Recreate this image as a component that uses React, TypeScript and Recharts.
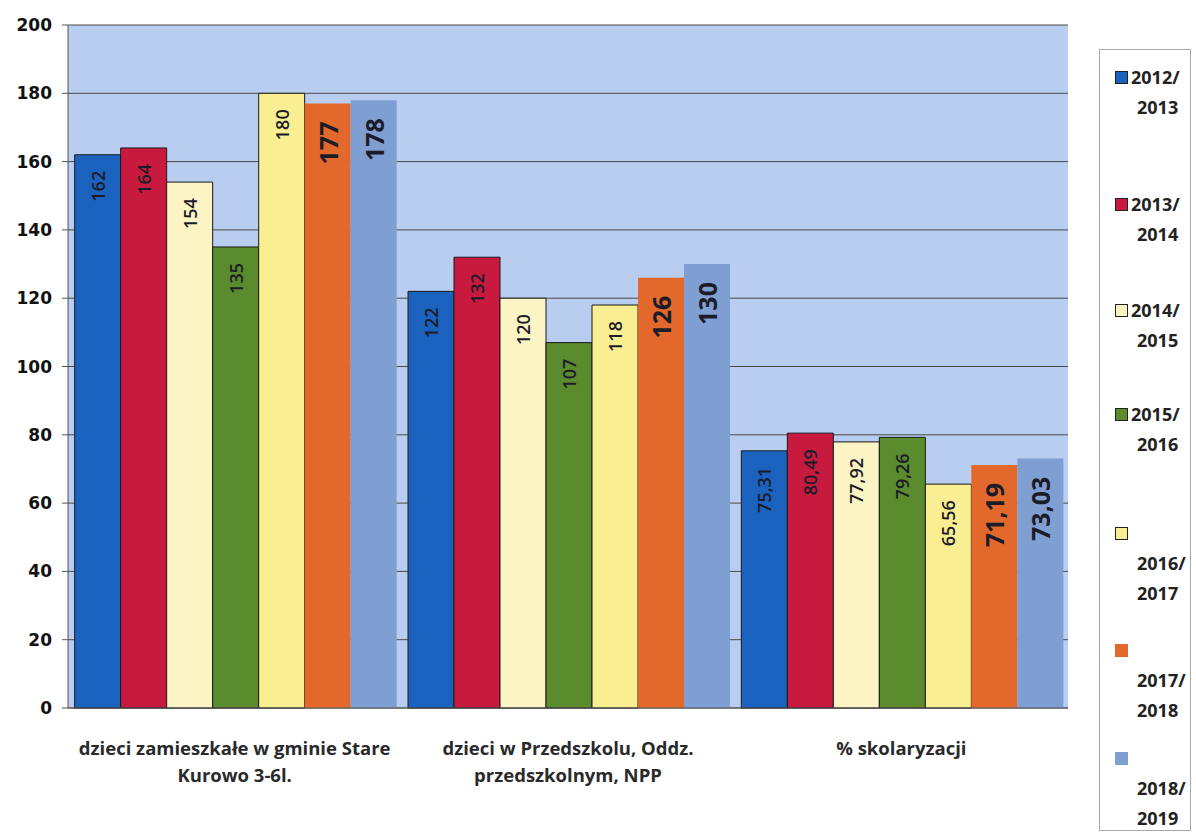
import { BarChart, Bar, XAxis, YAxis, CartesianGrid, Legend, LabelList } from 'recharts';

const categories = [
  'dzieci zamieszkałe w gminie Stare\nKurowo 3-6l.',
  'dzieci w Przedszkolu, Oddz.\nprzedszkolnym, NPP',
  '% skolaryzacji',
];

const years = ['2012/2013', '2013/2014', '2014/2015', '2015/2016', '2016/2017', '2017/2018', '2018/2019'];

const v2012 = [162, 122, 75.31];
const v2013 = [164, 132, 80.49];
const v2014 = [154, 120, 77.92];
const v2015 = [135, 107, 79.26];
const v2016 = [180, 118, 65.56];
const v2017 = [177, 126, 71.19];
const v2018 = [178, 130, 73.03];

const yTicks = [0, 20, 40, 60, 80, 100, 120, 140, 160, 180, 200];

const seriesValues = [v2012, v2013, v2014, v2015, v2016, v2017, v2018];

const data = categories.map((name, i) => {
  const row: Record<string, string | number> = { name };
  years.forEach((y, s) => {
    row[y] = seriesValues[s][i];
  });
  return row;
});

// per-series look
const colors = ['#1b62bf', '#c8193f', '#fcf4c4', '#5a8b2c', '#f9ee92', '#e2692b', '#7f9fd2'];
const outlined = [true, true, true, true, true, false, false];
const bigLabel = [false, false, false, false, false, true, true];

const fmt = (v: number) => (Number.isInteger(v) ? String(v) : v.toFixed(2).replace('.', ','));

const makeLabel = (big: boolean) => (props: any) => {
  const { x, y, width, value } = props;
  const cx = Number(x) + Number(width) / 2;
  const ty = Number(y) + (big ? 18 : 16);
  return (
    <text
      x={cx}
      y={ty}
      transform={`rotate(-90 ${cx} ${ty})`}
      textAnchor="end"
      dominantBaseline="central"
      fontFamily="'Open Sans', sans-serif"
      fontWeight={big ? 700 : 600}
      fontSize={big ? 25 : 18}
      fill="#1c1c28"
    >
      {fmt(Number(value))}
    </text>
  );
};

const CategoryTick = (props: any) => {
  const { x, y, payload } = props;
  const lines = String(payload.value).split('\n');
  return (
    <text
      x={x}
      y={y + 39}
      textAnchor="middle"
      fontFamily="'Open Sans', sans-serif"
      fontWeight={700}
      fontSize={18.5}
      fill="#2a2a2a"
    >
      {lines.map((l, i) => (
        <tspan key={i} x={x} dy={i === 0 ? 0 : 27}>
          {l}
        </tspan>
      ))}
    </text>
  );
};

// centre of the first line of each legend entry
const entryCentres = [77, 204, 310, 414, 533, 650, 758];

const LegendBox = (props: any) => {
  const payload = props.payload || [];
  return (
    <div
      style={{
        position: 'relative',
        width: 92,
        height: 782,
        background: '#ffffff',
        border: '1px solid #a8a8a8',
        boxSizing: 'border-box',
        fontFamily: "'Open Sans', sans-serif",
        fontWeight: 700,
        fontSize: 18,
        color: '#222',
        lineHeight: '30px',
      }}
    >
      {payload.map((p: any, i: number) => {
        const [a, b] = String(p.value).split('/');
        const box = (
          <span
            style={{
              display: 'inline-block',
              width: 13,
              height: 13,
              background: colors[i],
              border: outlined[i] ? '1px solid #222' : 'none',
              boxSizing: 'border-box',
              marginRight: 3,
              verticalAlign: 0,
            }}
          />
        );
        return (
          <div key={i} style={{ position: 'absolute', top: entryCentres[i] - 65, left: 15, whiteSpace: 'nowrap' }}>
            {i < 4 ? (
              <>
                <div>
                  {box}
                  {a}/
                </div>
                <div style={{ paddingLeft: 22 }}>{b}</div>
              </>
            ) : (
              <>
                <div>{box}</div>
                <div style={{ paddingLeft: 22 }}>{a}/</div>
                <div style={{ paddingLeft: 22 }}>{b}</div>
              </>
            )}
          </div>
        );
      })}
    </div>
  );
};

export default function App() {
  return (
    <div style={{ position: 'absolute', left: 0, top: 0, width: 1196, height: 840, background: '#ffffff' }}>
      <BarChart
        width={1196}
        height={840}
        data={data}
        margin={{ top: 25, right: 128, bottom: 52, left: 0 }}
        barCategoryGap="2%"
        barGap={0}
      >
        <CartesianGrid vertical={false} stroke="#4a4a4a" fill="#b8cdf0" fillOpacity={1} />
        <XAxis
          dataKey="name"
          height={80}
          tick={<CategoryTick />}
          tickLine={false}
          axisLine={{ stroke: '#555' }}
          interval={0}
        />
        <YAxis
          width={68}
          domain={[0, 200]}
          ticks={yTicks}
          interval={0}
          tickSize={6}
          tickMargin={10}
          axisLine={{ stroke: '#555' }}
          tickLine={{ stroke: '#555' }}
          tick={{ fontFamily: "'DejaVu Sans', sans-serif", fontWeight: 700, fontSize: 17, fill: '#111' }}
        />
        <YAxis
          yAxisId="r"
          orientation="right"
          width={0}
          domain={[0, 200]}
          tick={false}
          tickLine={false}
          axisLine={{ stroke: '#555' }}
        />
        <Legend
          layout="vertical"
          align="center"
          verticalAlign="middle"
          content={<LegendBox />}
          wrapperStyle={{ position: 'absolute', left: 1099, top: 49, width: 92, height: 782 }}
        />
        {years.map((y, i) => (
          <Bar
            key={y}
            dataKey={y}
            fill={colors[i]}
            stroke={outlined[i] ? '#1a1a1a' : 'none'}
            strokeWidth={1}
            isAnimationActive={false}
          >
            <LabelList dataKey={y} content={makeLabel(bigLabel[i])} />
          </Bar>
        ))}
      </BarChart>
    </div>
  );
}
